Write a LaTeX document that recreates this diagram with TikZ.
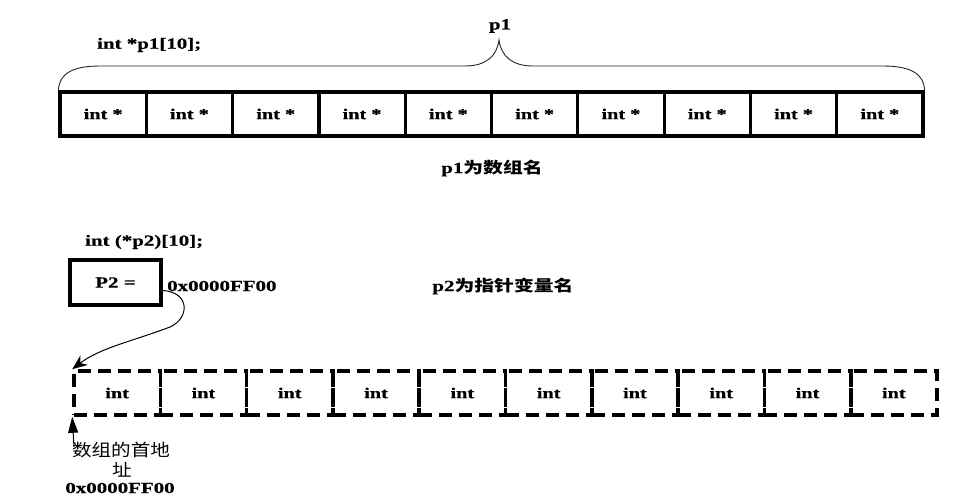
\documentclass[tikz,border=0pt]{standalone}
\usepackage{fontspec}
\setmainfont{Liberation Serif}
\newfontfamily\lbl[FakeStretch=1.35,FakeBold=0.6]{Liberation Serif}
\newfontfamily\cjk[FakeStretch=1.15]{Noto Sans CJK SC}
\newfontfamily\cjkb[FakeStretch=1.28]{Noto Sans CJK SC Bold}
\usetikzlibrary{arrows.meta,calc}
\tikzset{
  lab/.style={font=\lbl\bfseries\fontsize{15.5}{18}\selectfont, inner sep=0pt},
  cjklab/.style={font=\cjk\fontsize{17}{20}\selectfont, inner sep=0pt},
  cellA/.style={draw, line width=3.2pt, minimum width=86.3pt, minimum height=44pt, inner sep=0pt,
                font=\lbl\bfseries\fontsize{15}{17}\selectfont},
  cellB/.style={cellA, line width=3.6pt, dash pattern=on 13pt off 7pt},
  brace/.style={line width=0.9pt, black!85},
  ptr/.style={line width=1pt, -{Stealth[length=15pt,width=12pt]}},
  uparrow/.style={line width=1pt, -{Triangle[length=16pt,width=10pt]}},
  p2box/.style={lab, draw, line width=3.2pt, minimum width=91pt, minimum height=45pt}
}
\begin{document}
\begin{tikzpicture}[x=1pt,y=-1pt]
\useasboundingbox[fill=white] (0,0) rectangle (973,495);

% top array
\foreach \i in {1,...,10}
  \node[cellA] (a\i) at ({60+86.3*(\i-0.5)},114) {int *};

% brace
\draw[brace] (a1.north west) .. controls (59,74) and (72,66) .. (100,66)
  -- (465,66) .. controls (486,66) and (497,56) .. (499,40)
  .. controls (501,56) and (512,66) .. (533,66)
  -- (883,66) .. controls (911,66) and (924,74) .. (a10.north east);

\node[lab] (p1) at (500,26) {p1};
\node[lab, anchor=west] (decl1) at (97,45) {int *p1[10];};
\node[lab] (p1name) at (492,168) {p1{\cjkb 为数组名}};

% second part
\node[lab, anchor=west] (decl2) at (85,242) {int (*p2)[10];};
\node[p2box] (P2) at (115.5,282.5) {P2 =};
\node[lab, anchor=west] (addr) at (167,286) {0x0000FF00};
\node[lab] (p2name) at (503,286) {p2{\cjkb 为指针变量名}};

% bottom dashed array
\foreach \i in {1,...,10}
  \node[cellB] (d\i) at ({74+86.3*(\i-0.5)},393) {int};

% curved pointer
\coordinate (s) at ($(P2.east)+(0,8)$);
\draw[ptr] (s) .. controls (190,292) and (190,318) .. (170,327)
  .. controls (130,342) and (100,348) .. (d1.north west);

% first address arrow
\coordinate (base) at (74,447);
\draw[uparrow] (base) -- (d1.south west);
\node[cjklab] (t1) at (121,450) {数组的首地};
\node[cjklab] (t2) at (122,470) {址};
\node[lab] (t3) at (120,488) {0x0000FF00};
\end{tikzpicture}
\end{document}
